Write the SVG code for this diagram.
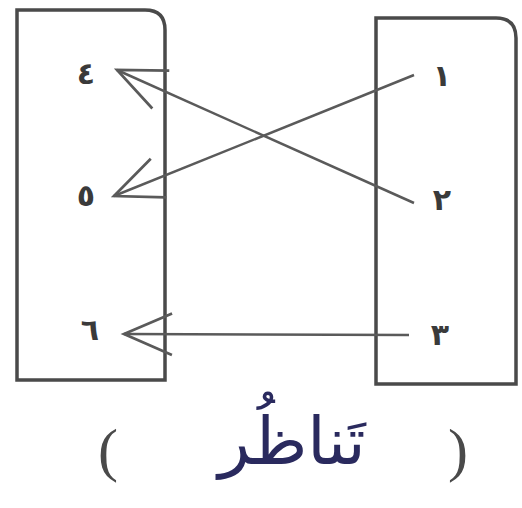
<svg xmlns="http://www.w3.org/2000/svg" width="522" height="508" viewBox="0 0 522 508">
<style>
.box{fill:none;stroke:#4a4a4a;stroke-width:3.5}
.con{stroke:#5a5a5a;stroke-width:2.5;fill:none}
.num{font-family:"DejaVu Sans","Noto Sans",sans-serif;font-size:30px;font-weight:bold;fill:#3a3a3a;text-anchor:middle}
.par{font-family:"Liberation Serif",serif;font-size:60px;fill:#4a4a4a;text-anchor:middle}
.word{font-family:"DejaVu Sans","Noto Sans",sans-serif;font-size:66px;fill:#2a2a5e;text-anchor:middle}
</style>
<defs>
<marker id="ah" markerUnits="userSpaceOnUse" markerWidth="60" markerHeight="60" viewBox="-50 -25 55 50" refX="0" refY="0" orient="auto">
<path d="M-44,-19 L0,0 L-44,19" fill="none" stroke="#5a5a5a" stroke-width="2.5"/>
</marker>
</defs>
<rect width="522" height="508" fill="#fff"/>
<g id="left-box">
<path class="box" d="M17,10 H145 Q165,10 165,30 V380 H17 Z"/>
<text class="num" x="86" y="84">٤</text>
<text class="num" x="86" y="206">٥</text>
<text class="num" x="90" y="340">٦</text>
</g>
<g id="right-box">
<path class="box" d="M376,18 H496 Q516,18 516,38 V384 H376 Z"/>
<text class="num" x="442" y="86">١</text>
<text class="num" x="442" y="210">٢</text>
<text class="num" x="440" y="345">٣</text>
</g>
<g id="connectors">
<line class="con" x1="414" y1="75" x2="114" y2="196" marker-end="url(#ah)"/>
<line class="con" x1="414" y1="203" x2="117" y2="70" marker-end="url(#ah)"/>
<line class="con" x1="409" y1="335" x2="124" y2="334" marker-end="url(#ah)"/>
</g>
<g id="caption">
<text class="par" x="108" y="470">(</text>
<text class="par" x="458" y="470">)</text>
<text class="word" x="292" y="464">تَناظُر</text>
</g>
</svg>
